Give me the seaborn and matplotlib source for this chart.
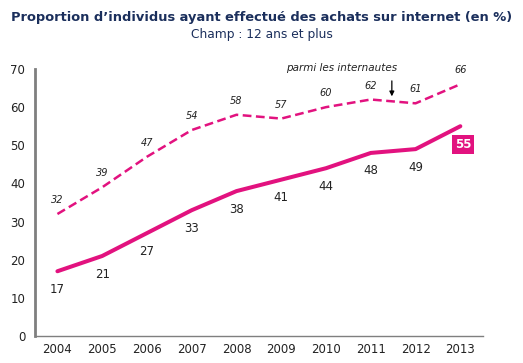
import numpy as np
import pandas as pd
import seaborn as sns
import matplotlib.pyplot as plt

years = ['2004', '2005', '2006', '2007', '2008', '2009', '2010', '2011', '2012', '2013']
ensemble = [17, 21, 27, 33, 38, 41, 44, 48, 49, 55]
internautes = [32, 39, 47, 54, 58, 57, 60, 62, 61, 66]

magenta = '#e2127f'
navy = '#1b2f5c'

sns.set_style("white")
plt.rcParams['font.family'] = ['DejaVu Sans']

df = pd.DataFrame({'year': years, 'ensemble': ensemble, 'internautes': internautes})
df['pos'] = np.arange(len(years))

fig = plt.figure(figsize=(5.23, 3.63), dpi=100)
ax = fig.add_axes([0.067, 0.074, 0.856, 0.736])

# dashed line: among internet users
sns.lineplot(data=df, x='pos', y='internautes', ax=ax, color=magenta, lw=1.8,
             linestyle=(0, (3.5, 1.8)))
# solid line: whole population
sns.lineplot(data=df, x='pos', y='ensemble', ax=ax, color=magenta, lw=2.9)

# labels
for i, v in enumerate(ensemble[:-1]):
    ax.annotate(str(v), (i, v), xytext=(0, -13), textcoords='offset points',
                ha='center', va='center', fontsize=8.5, color='#222222')
ax.annotate(str(ensemble[-1]), (9, ensemble[-1]), xytext=(2, -13), textcoords='offset points',
            ha='center', va='center', fontsize=8.5, color='white', fontweight='bold',
            bbox=dict(boxstyle='square,pad=0.25', fc=magenta, ec='none'))
for i, v in enumerate(internautes):
    ax.annotate(str(v), (i, v), xytext=(0, 10), textcoords='offset points',
                ha='center', va='center', fontsize=7, color='#222222', style='italic')

ax.annotate('', xy=(7.47, 62.1), xytext=(7.47, 67.6),
            arrowprops=dict(arrowstyle='-|>', color='black', lw=0.9, mutation_scale=7))
ax.text(6.35, 70.3, 'parmi les internautes', ha='center', va='center', fontsize=7.5,
        style='italic', color='#222222', clip_on=False)

ax.set_xlim(-0.5, 9.5)
ax.set_ylim(0, 70)
ax.set_yticks(range(0, 71, 10))
ax.set_xticks(np.arange(-0.5, 10, 1))
ax.set_xticklabels([])
ax.set_xticks(np.arange(10), minor=True)
ax.set_xticklabels(years, minor=True)
ax.tick_params(axis='x', which='minor', length=0, pad=5, labelsize=8.5, labelcolor='#222222')
ax.tick_params(axis='x', which='major', length=4, width=1, color='#7f7f7f', direction='out')
ax.tick_params(axis='y', length=4, width=1, color='#7f7f7f', direction='out',
               labelsize=8.5, labelcolor='#222222', pad=3)
ax.set_xlabel('')
ax.set_ylabel('')

sns.despine(ax=ax)
ax.spines['left'].set_color('#7f7f7f')
ax.spines['left'].set_linewidth(2)
ax.spines['bottom'].set_color('#7f7f7f')
ax.spines['bottom'].set_linewidth(1)

fig.text(0.5, 0.951, "Proportion d\u2019individus ayant effectu\u00e9 des achats sur internet (en %)",
         ha='center', va='center', fontsize=9.4, fontweight='bold', color=navy)
fig.text(0.5, 0.904, 'Champ : 12 ans et plus', ha='center', va='center', fontsize=8.8, color=navy)

fig.savefig('out.png', dpi=100)
